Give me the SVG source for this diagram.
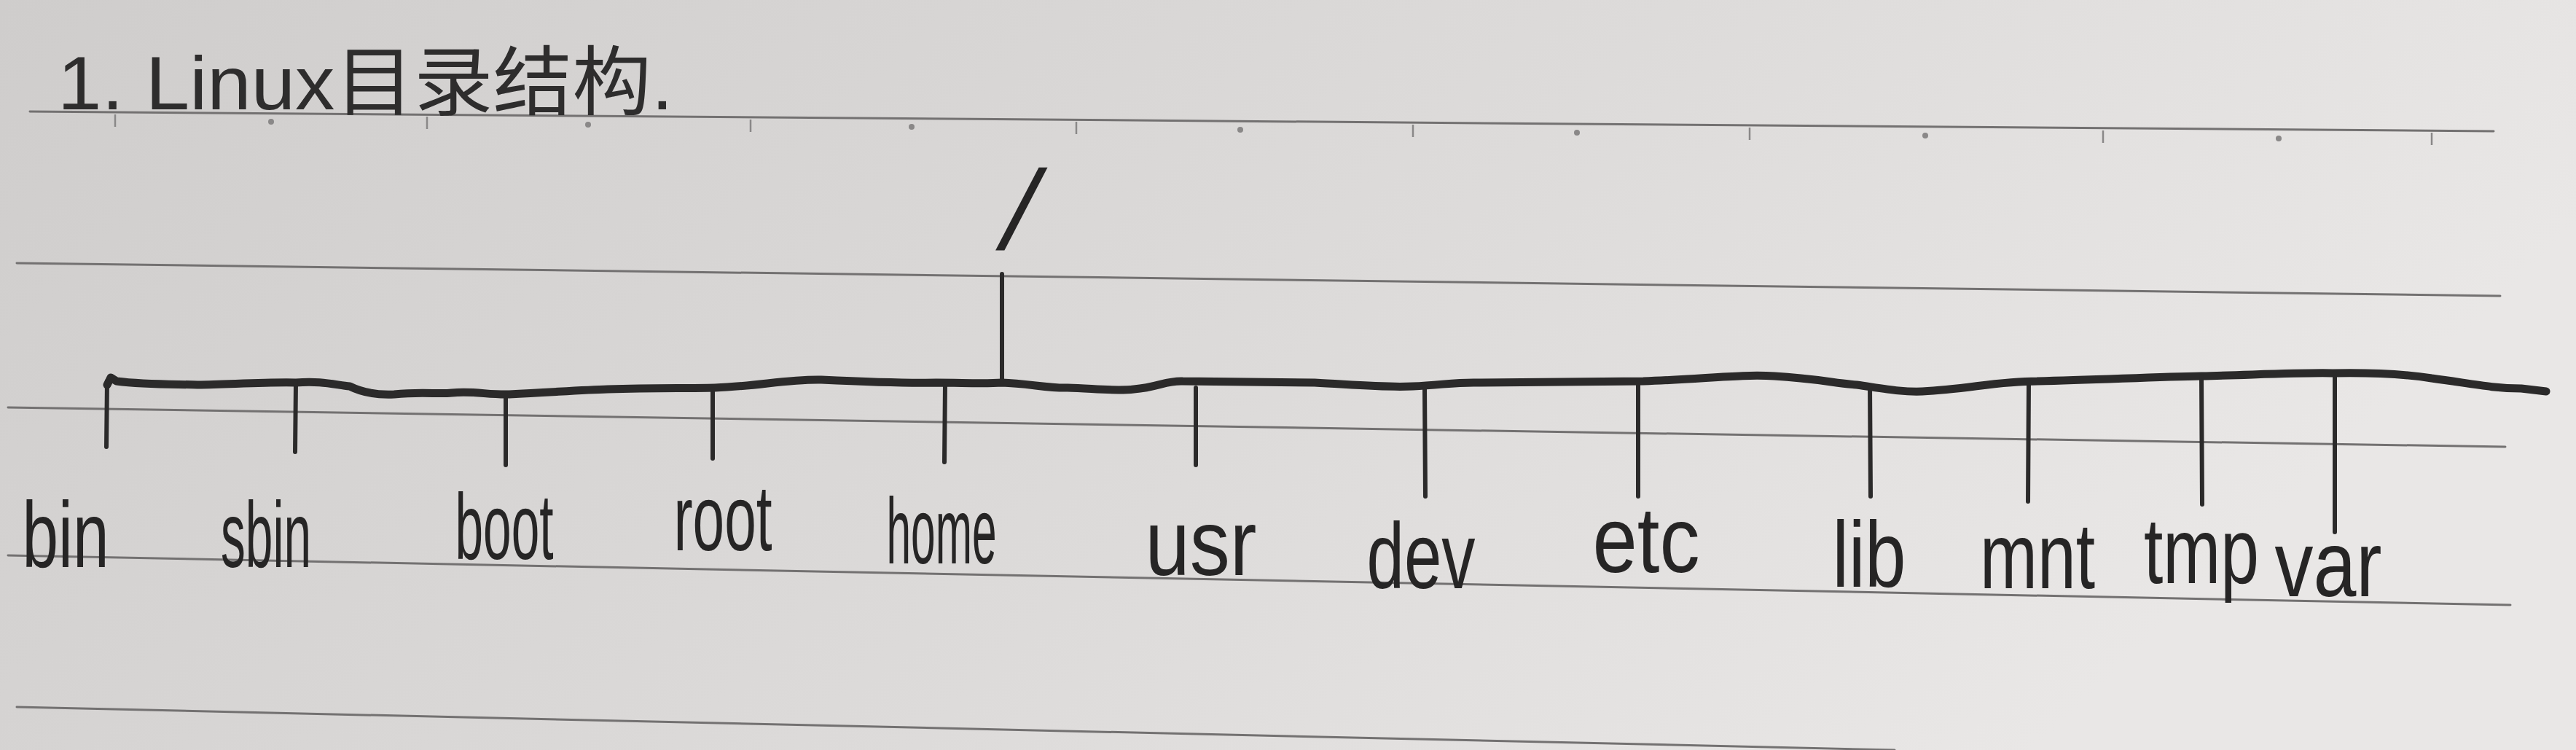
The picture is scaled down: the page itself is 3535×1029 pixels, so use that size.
<svg xmlns="http://www.w3.org/2000/svg" width="3535" height="1029" viewBox="0 0 3535 1029">
<defs>
<linearGradient id="paper" x1="0" y1="0" x2="1" y2="0.3">
<stop offset="0" stop-color="#cfcdcc"/>
<stop offset="0.6" stop-color="#dddbda"/>
<stop offset="1" stop-color="#e9e7e6"/>
</linearGradient>
<style>
.rule{stroke:#737171;stroke-width:3;fill:none;stroke-linecap:round}
.tick{stroke:#8a8888;stroke-width:2.5;fill:none}
.dot{fill:#8a8888}
.bar{stroke:#2b2a2a;stroke-width:11;fill:none;stroke-linecap:round;stroke-linejoin:round}
.drop{stroke:#2b2a2a;stroke-width:6;fill:none;stroke-linecap:round}
.lbl{font-family:"Liberation Sans","DejaVu Sans",sans-serif;font-size:128px;fill:#262525;text-anchor:middle}
.slash{font-family:"Liberation Sans","DejaVu Sans",sans-serif;font-size:155px;fill:#262525;text-anchor:middle}
.title{font-family:"Liberation Sans","Noto Sans CJK SC",sans-serif;font-size:104px;fill:#2e2d2d}
</style>
</defs>
<rect width="3535" height="1029" fill="url(#paper)"/>
<g id="paper-lines">
<line class="rule" x1="41" y1="153" x2="3422" y2="180"/>
<line class="rule" x1="23" y1="361" x2="3431" y2="406"/>
<line class="rule" x1="11" y1="559" x2="3438" y2="613"/>
<line class="rule" x1="11" y1="762" x2="3445" y2="830"/>
<line class="rule" x1="23" y1="970" x2="2600" y2="1029"/>
<g class="tick">
<line x1="158" y1="157" x2="158" y2="174"/>
<line x1="586" y1="160" x2="586" y2="177"/>
<line x1="1030" y1="164" x2="1030" y2="181"/>
<line x1="1477" y1="167" x2="1477" y2="184"/>
<line x1="1939" y1="171" x2="1939" y2="188"/>
<line x1="2401" y1="175" x2="2401" y2="192"/>
<line x1="2886" y1="179" x2="2886" y2="196"/>
<line x1="3337" y1="182" x2="3337" y2="199"/>
</g>
<g class="dot">
<circle cx="372" cy="167" r="4"/>
<circle cx="807" cy="171" r="4"/>
<circle cx="1251" cy="174" r="4"/>
<circle cx="1702" cy="178" r="4"/>
<circle cx="2164" cy="182" r="4"/>
<circle cx="2642" cy="186" r="4"/>
<circle cx="3127" cy="190" r="4"/>
</g>
</g>
<text id="title" class="title" x="79" y="150" textLength="845" lengthAdjust="spacingAndGlyphs">1. Linux目录结构.</text>
<g id="connectors">
<path class="bar" d="M147 528 L152 518 L160 523 C200 528 240 527 271 528 C320 527 370 524 406 525 C440 522 460 528 480 530 C500 540 520 542 541 541 C580 537 600 541 620 539 C650 536 670 542 699 541 C760 538 800 535 834 534 C900 532 940 533 981 532 C1040 530 1080 520 1127 521 C1190 524 1240 526 1285 525 C1320 525 1350 527 1375 525 C1410 526 1440 533 1465 532 C1500 533 1530 537 1556 534 C1590 531 1600 522 1623 523 C1700 524 1760 525 1804 525 C1860 528 1900 532 1939 530 C1980 528 2000 524 2029 525 C2120 524 2190 523 2255 523 C2340 520 2390 513 2435 516 C2490 519 2520 526 2548 528 C2590 534 2610 538 2638 537 C2700 534 2740 523 2796 523 C2880 521 2960 517 3021 516 C3100 514 3160 511 3201 512 C3260 511 3300 513 3337 519 C3390 526 3420 533 3460 533 L3494 537"/>
<line class="drop" x1="1375" y1="376" x2="1375" y2="525"/>
<line class="drop" x1="147" y1="523" x2="146" y2="613"/>
<line class="drop" x1="406" y1="525" x2="405" y2="620"/>
<line class="drop" x1="694" y1="541" x2="694" y2="638"/>
<line class="drop" x1="978" y1="534" x2="978" y2="629"/>
<line class="drop" x1="1297" y1="527" x2="1296" y2="634"/>
<line class="drop" x1="1641" y1="532" x2="1641" y2="638"/>
<line class="drop" x1="1955" y1="530" x2="1956" y2="681"/>
<line class="drop" x1="2248" y1="523" x2="2248" y2="681"/>
<line class="drop" x1="2566" y1="530" x2="2567" y2="681"/>
<line class="drop" x1="2784" y1="523" x2="2783" y2="688"/>
<line class="drop" x1="3021" y1="516" x2="3022" y2="692"/>
<line class="drop" x1="3204" y1="512" x2="3204" y2="730"/>
</g>
<g id="node-root"><text class="slash" transform="translate(1388,342) skewX(-14)" x="0" y="0">/</text></g>
<g id="node-bin"><text class="lbl" x="90" y="778" textLength="119" lengthAdjust="spacingAndGlyphs">bin</text></g>
<g id="node-sbin"><text class="lbl" x="365" y="778" textLength="124" lengthAdjust="spacingAndGlyphs">sbin</text></g>
<g id="node-boot"><text class="lbl" x="692" y="767" textLength="135" lengthAdjust="spacingAndGlyphs">boot</text></g>
<g id="node-root-dir"><text class="lbl" x="992" y="755" textLength="135" lengthAdjust="spacingAndGlyphs">root</text></g>
<g id="node-home"><text class="lbl" x="1292" y="773" textLength="151" lengthAdjust="spacingAndGlyphs">home</text></g>
<g id="node-usr"><text class="lbl" x="1648" y="789" textLength="153" lengthAdjust="spacingAndGlyphs">usr</text></g>
<g id="node-dev"><text class="lbl" x="1950" y="807" textLength="149" lengthAdjust="spacingAndGlyphs">dev</text></g>
<g id="node-etc"><text class="lbl" x="2259" y="785" textLength="147" lengthAdjust="spacingAndGlyphs">etc</text></g>
<g id="node-lib"><text class="lbl" x="2565" y="805" textLength="101" lengthAdjust="spacingAndGlyphs">lib</text></g>
<g id="node-mnt"><text class="lbl" x="2796" y="807" textLength="158" lengthAdjust="spacingAndGlyphs">mnt</text></g>
<g id="node-tmp"><text class="lbl" x="3021" y="800" textLength="158" lengthAdjust="spacingAndGlyphs">tmp</text></g>
<g id="node-var"><text class="lbl" x="3195" y="818" textLength="147" lengthAdjust="spacingAndGlyphs">var</text></g>
</svg>
